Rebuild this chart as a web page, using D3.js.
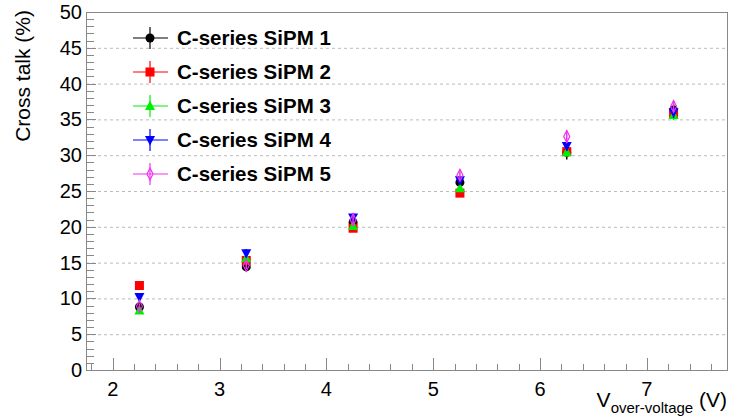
<!DOCTYPE html>
<html>
<meta charset="utf-8">
<script src="https://d3js.org/d3.v7.min.js"></script>
<style>
  body { margin: 0; background: #fff; }
  text { font-family: "Liberation Sans", Arial, sans-serif; }
</style>
<body>
<div id="chart"></div>
<script>

    // data
    var voltages = [2.25, 3.25, 4.25, 5.25, 6.25, 7.25];
    var seriesNames = ["C-series SiPM 1", "C-series SiPM 2", "C-series SiPM 3", "C-series SiPM 4", "C-series SiPM 5"];
    var sipm1 = [8.8, 14.4, 20.6, 26.2, 30.4, 36.3];
    var sipm2 = [11.8, 15.3, 19.8, 24.7, 30.5, 35.8];
    var sipm3 = [8.3, 15.6, 20.1, 25.4, 30.4, 35.6];
    var sipm4 = [10.2, 16.3, 21.3, 26.5, 31.3, 36.0];
    var sipm5 = [8.9, 14.6, 21.0, 27.2, 32.6, 36.8];
    var err1 = [0.4, 0.5, 0.5, 0.6, 1.0, 0.8];
    var err2 = [0.4, 0.5, 0.5, 0.5, 0.6, 0.7];
    var err3 = [0.4, 0.5, 0.5, 0.5, 0.6, 0.7];
    var err4 = [0.4, 0.6, 0.6, 0.6, 0.7, 0.8];
    var err5 = [0.4, 0.5, 0.8, 0.8, 0.9, 0.8];
    var yTicks = [0, 5, 10, 15, 20, 25, 30, 35, 40, 45, 50];
    var xTicks = [2, 3, 4, 5, 6, 7];

    var colors = ["#000000", "#ff0000", "#00ee00", "#0000ff", "#ee33ee"];
    var shapes = ["circle", "square", "triup", "tridown", "diamond"];
    var values = [sipm1, sipm2, sipm3, sipm4, sipm5];
    var errors = [err1, err2, err3, err4, err5];

    var W = 729, H = 417;
    var margin = {top: 12, right: 2, bottom: 47, left: 86};
    var width = W - margin.left - margin.right,
        height = H - margin.top - margin.bottom;

    var svg = d3.select("#chart")
      .append("svg")
        .attr("width", W)
        .attr("height", H);

    var g = svg.append("g")
        .attr("transform", "translate(" + margin.left + "," + margin.top + ")");

    var x = d3.scaleLinear().domain([1.75, 7.75]).range([0, width]);
    var y = d3.scaleLinear().domain([0, 50]).range([height, 0]);

    var frameColor = "#888";

    // horizontal dashed grid
    g.selectAll(".grid")
      .data(yTicks.filter(function(d) { return d > 0 && d < 50; }))
      .enter()
      .append("line")
        .attr("x1", 0).attr("x2", width)
        .attr("y1", function(d) { return y(d) + 0.5; })
        .attr("y2", function(d) { return y(d) + 0.5; })
        .attr("stroke", "#bbb")
        .attr("stroke-dasharray", "3,3");

    // frame
    g.append("rect")
      .attr("x", 0.5).attr("y", 0.5)
      .attr("width", width).attr("height", height)
      .attr("fill", "none")
      .attr("stroke", frameColor);

    // x axis ticks (inward)
    var xMinor = d3.range(1.8, 7.75, 0.2).filter(function(v) {
      return Math.abs(v - Math.round(v)) > 0.01;
    });
    g.selectAll(".xminor").data(xMinor).enter().append("line")
      .attr("x1", function(d) { return Math.round(x(d)) + 0.5; })
      .attr("x2", function(d) { return Math.round(x(d)) + 0.5; })
      .attr("y1", height).attr("y2", height - 6)
      .attr("stroke", frameColor);
    g.selectAll(".xmajor").data(xTicks).enter().append("line")
      .attr("x1", function(d) { return Math.round(x(d)) + 0.5; })
      .attr("x2", function(d) { return Math.round(x(d)) + 0.5; })
      .attr("y1", height).attr("y2", height - 12)
      .attr("stroke", frameColor);
    g.selectAll(".xlabel").data(xTicks).enter().append("text")
      .attr("x", function(d) { return x(d); })
      .attr("y", height + 26)
      .attr("text-anchor", "middle")
      .style("font-size", "20px")
      .text(function(d) { return d; });

    // y axis ticks (inward)
    var yMinor = d3.range(0, 51, 1).filter(function(v) { return v % 5 !== 0; });
    g.selectAll(".yminor").data(yMinor).enter().append("line")
      .attr("x1", 0).attr("x2", 8)
      .attr("y1", function(d) { return Math.round(y(d)) + 0.5; })
      .attr("y2", function(d) { return Math.round(y(d)) + 0.5; })
      .attr("stroke", frameColor);
    g.selectAll(".ymajor").data(yTicks).enter().append("line")
      .attr("x1", 0).attr("x2", 10)
      .attr("y1", function(d) { return Math.round(y(d)) + 0.5; })
      .attr("y2", function(d) { return Math.round(y(d)) + 0.5; })
      .attr("stroke", frameColor);
    g.selectAll(".ylabel").data(yTicks).enter().append("text")
      .attr("x", -4)
      .attr("y", function(d) { return y(d) + 7; })
      .attr("text-anchor", "end")
      .style("font-size", "20px")
      .text(function(d) { return d; });

    // axis titles
    svg.append("text")
      .attr("transform", "translate(30,10) rotate(-90)")
      .attr("text-anchor", "end")
      .style("font-size", "21px")
      .text("Cross talk (%)");

    var xt = svg.append("text")
      .attr("x", 727).attr("y", 407)
      .attr("text-anchor", "end")
      .style("font-size", "21px");
    xt.append("tspan").text("V");
    xt.append("tspan").attr("dy", 6).style("font-size", "15px").text("over-voltage");
    xt.append("tspan").attr("dy", -6).text(" (V)");

    function marker(sel, shape, color) {
      if (shape === "circle") {
        sel.append("circle").attr("r", 4.5).attr("fill", color);
      } else if (shape === "square") {
        sel.append("rect").attr("x", -4.5).attr("y", -4.5)
          .attr("width", 9).attr("height", 9).attr("fill", color);
      } else if (shape === "triup") {
        sel.append("path").attr("d", "M0,-5.5L5,4L-5,4Z").attr("fill", color);
      } else if (shape === "tridown") {
        sel.append("path").attr("d", "M0,5.5L5,-4L-5,-4Z").attr("fill", color);
      } else {
        sel.append("path").attr("d", "M0,-6L3,0L0,6L-3,0Z")
          .attr("fill", "none").attr("stroke", color).attr("stroke-width", 1.2);
      }
    }

    // data points with vertical error bars
    values.forEach(function(vals, i) {
      var pts = g.selectAll(".s" + i)
        .data(vals.map(function(v, j) { return {x: voltages[j], y: v, e: errors[i][j]}; }))
        .enter()
        .append("g")
          .attr("transform", function(d) { return "translate(" + x(d.x) + "," + y(d.y) + ")"; });
      pts.append("line")
        .attr("x1", 0).attr("x2", 0)
        .attr("y1", function(d) { return y(d.y + d.e) - y(d.y); })
        .attr("y2", function(d) { return y(d.y - d.e) - y(d.y); })
        .attr("stroke", colors[i])
        .attr("stroke-width", 1.5);
      pts.each(function() { marker(d3.select(this), shapes[i], colors[i]); });
    });

    // legend
    var legend = svg.append("g");
    seriesNames.forEach(function(name, i) {
      var cy = 38 + i * 34;
      var item = legend.append("g").attr("transform", "translate(150," + cy + ")");
      item.append("line").attr("x1", -17).attr("x2", 18).attr("y1", 0).attr("y2", 0)
        .attr("stroke", colors[i]).attr("stroke-width", 1.2);
      item.append("line").attr("x1", 0).attr("x2", 0).attr("y1", -11).attr("y2", 11)
        .attr("stroke", colors[i]).attr("stroke-width", 1.2);
      marker(item, shapes[i], colors[i]);
      legend.append("text")
        .attr("x", 177).attr("y", cy + 7)
        .style("font-size", "20.5px")
        .style("font-weight", "bold")
        .text(name);
    });

</script>
</body>
</html>
